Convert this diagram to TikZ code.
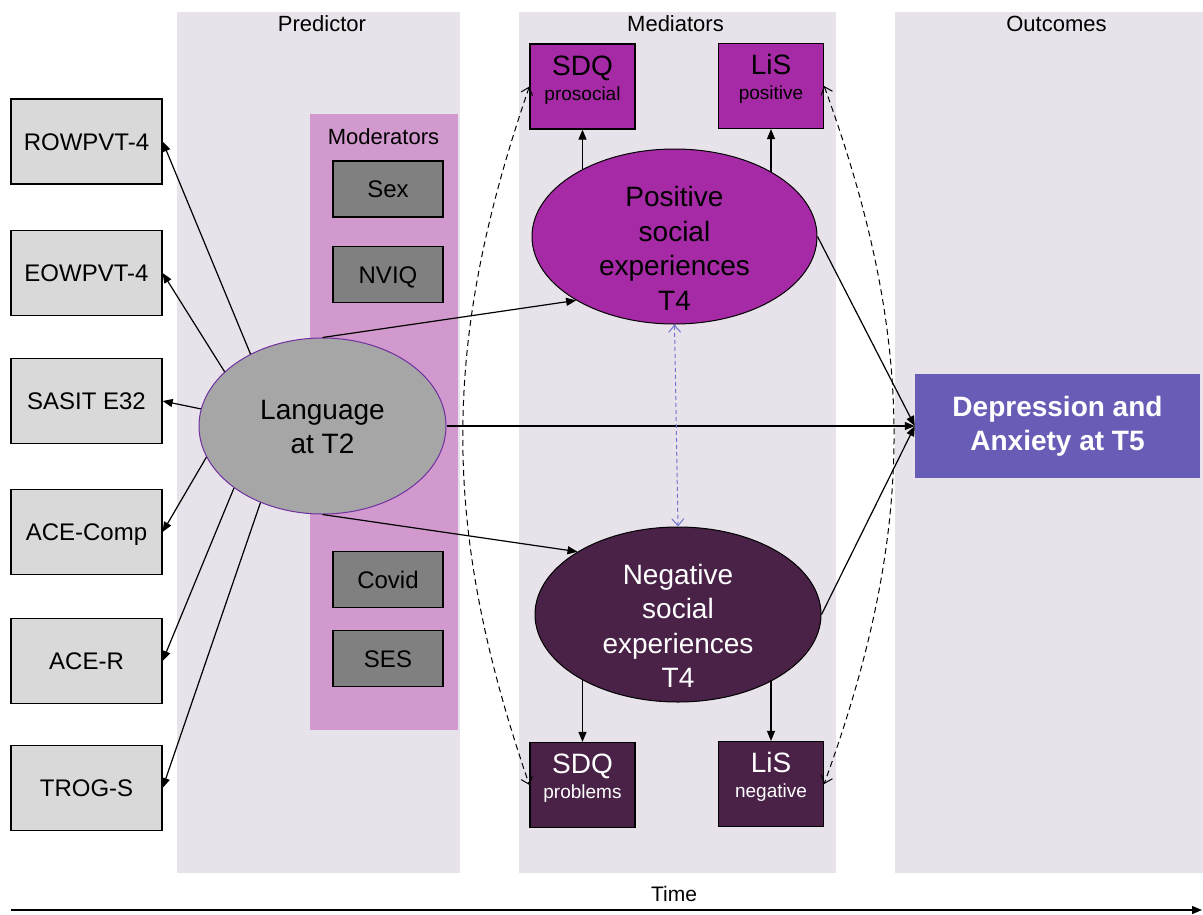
\documentclass[tikz,border=0pt]{standalone}
\usepackage{fontspec}
\setmainfont{Liberation Sans}
\usetikzlibrary{arrows.meta,shapes.geometric,positioning}
\definecolor{panelgrey}{RGB}{232,227,234}
\definecolor{modpink}{RGB}{209,153,205}
\definecolor{testgrey}{RGB}{217,217,217}
\definecolor{modgrey}{RGB}{128,128,128}
\definecolor{langgrey}{RGB}{166,166,166}
\definecolor{langedge}{RGB}{112,48,160}
\definecolor{posmagenta}{RGB}{166,42,166}
\definecolor{negplum}{RGB}{74,34,72}
\definecolor{depviolet}{RGB}{103,93,183}
\definecolor{covblue}{RGB}{115,115,210}

\begin{document}
\begin{tikzpicture}[x = 1pt, y = -1pt,
        testbox/.style = {draw, line width = 1.2pt, fill = testgrey, minimum width = 151pt,
                          minimum height = 85pt, text height = 17pt, text depth = 0pt,
                          font = \fontsize{24}{29}\selectfont},
        modbox/.style = {draw, line width = 1.2pt, fill = modgrey, minimum width = 110pt,
                         minimum height = 56pt, text height = 17pt, text depth = 0pt,
                         font = \fontsize{24}{29}\selectfont},
        latent/.style = {ellipse, draw, line width = 1pt, inner sep = 0pt,
                         font = \fontsize{28}{34.5}\selectfont},
        indicator/.style = {draw, line width = 1.2pt, minimum width = 105pt, minimum height = 85pt,
                            inner sep = 0pt, font = \fontsize{28}{25}\selectfont},
        header/.style = {anchor = base, font = \fontsize{22}{26}\selectfont},
        effect/.style = {line width = 1.2pt, -{Triangle[length = 10pt, width = 8pt]}},
        covary/.style = {line width = 1pt, dash pattern = on 6pt off 4pt,
                         {Straight Barb[length = 7pt, width = 12pt]}-{Straight Barb[length = 7pt, width = 12pt]}}]
    \useasboundingbox (0,0) rectangle (1203,914);
    %panels
    \fill[panelgrey] (177,12) rectangle (460,873);
    \fill[panelgrey] (519,12) rectangle (836,873);
    \fill[panelgrey] (895,12) rectangle (1203,873);
    \fill[modpink] (310,114) rectangle (458,730);
    \node[header] (predictor) at (322,31) {Predictor};
    \node[header] (mediators) at (675.5,31) {Mediators};
    \node[header] (outcomes) at (1056.5,31) {Outcomes};
    \node[header] (moderators) at (383.5,144) {Moderators};
    %language measures
    \foreach \name/\txt/\ypos in {rowpvt/ROWPVT-4/141.5, eowpvt/EOWPVT-4/273, sasit/SASIT E32/401,
                                  acecomp/ACE-Comp/532, acer/ACE-R/661, trogs/TROG-S/788}
        \node[testbox] (\name) at (86.5,\ypos) {\txt};
    %moderators
    \foreach \name/\txt/\ypos in {sex/Sex/189, nviq/NVIQ/274.5, covid/Covid/579.5, ses/SES/658.5}
        \node[modbox] (\name) at (388,\ypos) {\txt};
    %latent variables
    \node[latent, draw = langedge, fill = langgrey, minimum width = 247pt, minimum height = 176pt,
          font = \fontsize{28}{33.5}\selectfont] (lang) at (322.5,426)
          {\raisebox{6.5pt}[0pt][0pt]{\begin{tabular}[t]{@{}c@{}}Language\\at T2\end{tabular}}};
    \node[latent, fill = posmagenta, minimum width = 285pt, minimum height = 175pt] (pos) at (674.5,236.5)
          {\raisebox{30pt}[0pt][0pt]{\begin{tabular}[t]{@{}c@{}}Positive\\social\\experiences\\T4\end{tabular}}};
    \node[latent, fill = negplum, text = white, minimum width = 286pt, minimum height = 175pt] (neg) at (678,614.5)
          {\raisebox{30.5pt}[0pt][0pt]{\begin{tabular}[t]{@{}c@{}}Negative\\social\\experiences\\T4\end{tabular}}};
    %indicators
    \node[indicator, fill = posmagenta] (sdqpos) at (582.5,86.5)
          {\raisebox{5pt}[\height][\depth]{\begin{tabular}{@{}c@{}}SDQ\\{\fontsize{19}{25}\selectfont prosocial}\end{tabular}}};
    \node[indicator, fill = posmagenta] (lispos) at (771,86)
          {\raisebox{5pt}[\height][\depth]{\begin{tabular}{@{}c@{}}LiS\\{\fontsize{19}{25}\selectfont positive}\end{tabular}}};
    \node[indicator, fill = negplum, text = white] (sdqneg) at (582.5,785)
          {\raisebox{5pt}[\height][\depth]{\begin{tabular}{@{}c@{}}SDQ\\{\fontsize{19}{25}\selectfont problems}\end{tabular}}};
    \node[indicator, fill = negplum, text = white] (lisneg) at (771,784)
          {\raisebox{5pt}[\height][\depth]{\begin{tabular}{@{}c@{}}LiS\\{\fontsize{19}{25}\selectfont negative}\end{tabular}}};
    %outcome
    \node[fill = depviolet, text = white, minimum width = 285pt, minimum height = 104pt, align = center,
          font = \bfseries\fontsize{28}{34}\selectfont] (dep) at (1057.5,426) {Depression and\\Anxiety at T5};
    %paths
    \foreach \name/\ang in {rowpvt/135, eowpvt/151, sasit/172, acecomp/195, acer/215, trogs/231}
        \draw[effect] (lang.\ang) -- (\name.east);
    \draw[effect] (lang.north) -- (pos.213);
    \draw[effect] (lang.south) -- (neg.148);
    \draw[effect] (lang.east) -- (dep.west);
    \draw[effect] (pos.east) -- (dep.west);
    \draw[effect] (neg.east) -- (dep.west);
    %measurement
    \draw[effect] (sdqpos.south |- pos.144) -- (sdqpos.south);
    \draw[effect] (lispos.south |- pos.34) -- (lispos.south);
    \draw[effect] (sdqneg.north |- neg.214) -- (sdqneg.north);
    \draw[effect] (lisneg.north |- neg.326) -- (lisneg.north);
    %correlations
    \draw[covary] (sdqpos.west) to[bend right = 19] (sdqneg.west);
    \draw[covary] (lispos.east) to[bend left = 20] (lisneg.east);
    \draw[covary, covblue, dash pattern = on 4pt off 3pt] (pos.south) -- (neg.north);
    %time
    \coordinate (timestart) at (11,910);
    \coordinate (timeend) at (1202,910);
    \draw[effect] (timestart) -- (timeend);
    \node[header, font = \fontsize{21}{25}\selectfont] (time) at (674,901) {Time};
\end{tikzpicture}
\end{document}
